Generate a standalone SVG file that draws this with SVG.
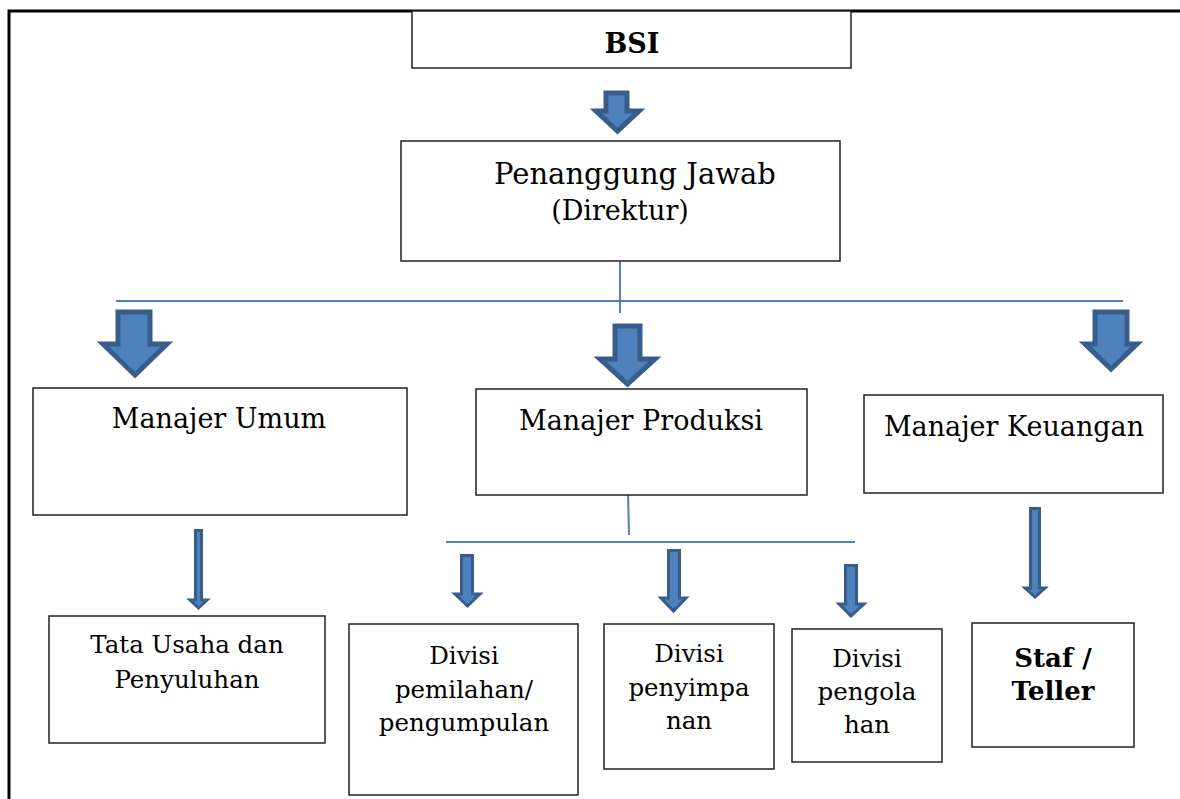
<svg xmlns="http://www.w3.org/2000/svg" width="1180" height="799" viewBox="0 0 1180 799">
<style>
.box{fill:#fff;stroke:#222;stroke-width:1.5}
.t{font-family:"DejaVu Serif","Liberation Serif",serif;fill:#000;text-anchor:middle}
.l{font-size:27px}
.s{font-size:24.5px}
.big{fill:#4F81BD;stroke:#385D8A;stroke-width:5;stroke-linejoin:miter}
.sm{fill:#4F81BD;stroke:#385D8A;stroke-width:3;stroke-linejoin:miter}
.con{stroke:#4F81BD;stroke-width:2;fill:none}
</style>
<rect width="1180" height="799" fill="#fff"/>
<g id="frame"><path d="M9,799 V11 H1180" fill="none" stroke="#000" stroke-width="3"/></g>
<g id="connectors">
<line class="con" x1="620" y1="261" x2="620" y2="313"/>
<line class="con" x1="116" y1="301" x2="1123" y2="301"/>
<line class="con" x1="628" y1="492" x2="629" y2="535"/>
<line class="con" x1="446" y1="542" x2="855" y2="542"/>
<path class="big" d="M606,93 H627 V111 H639 L617.5,131 L596,111 H606 Z"/>
<path class="big" d="M118,312 H150 V344 H167 L135,375 L103,344 H118 Z"/>
<path class="big" d="M615,326 H640 V359 H655 L627.5,384 L600,359 H615 Z"/>
<path class="big" d="M1095,312 H1127 V344 H1137 L1111,369 L1085,344 H1095 Z"/>
<path class="sm" d="M195.5,530.5 H201.5 V600 H207 L198.5,608 L190,600 H195.5 Z"/>
<path class="sm" d="M461.5,555.5 H472.5 V594 H480 L467.5,606 L455,594 H461.5 Z"/>
<path class="sm" d="M668.5,550.5 H679.5 V598 H686 L673.5,611 L661,598 H668.5 Z"/>
<path class="sm" d="M845.5,565.5 H856.5 V604 H864 L851,616 L839,604 H845.5 Z"/>
<path class="sm" d="M1030.5,508.5 H1039.5 V588 H1045 L1035,597 L1025,588 H1030.5 Z"/>
</g>
<g id="bsi"><rect class="box" x="412" y="11" width="439" height="57"/><text class="t" x="632" y="53" font-size="27" font-weight="bold">BSI</text></g>
<g id="direktur"><rect class="box" x="401" y="141" width="439" height="120"/><text class="t" x="635" y="184" font-size="29">Penanggung Jawab</text><text class="t l" x="620" y="220">(Direktur)</text></g>
<g id="umum"><rect class="box" x="33" y="388" width="374" height="127"/><text class="t l" x="219" y="428">Manajer Umum</text></g>
<g id="produksi"><rect class="box" x="476" y="389" width="331" height="106"/><text class="t l" x="641" y="430">Manajer Produksi</text></g>
<g id="keuangan"><rect class="box" x="864" y="395" width="299" height="98"/><text class="t l" x="1014" y="436">Manajer Keuangan</text></g>
<g id="tatausaha"><rect class="box" x="49" y="616" width="276" height="127"/><text class="t s" x="187" y="653">Tata Usaha dan</text><text class="t s" x="187" y="688">Penyuluhan</text></g>
<g id="pemilahan"><rect class="box" x="349" y="624" width="229" height="171"/><text class="t s" x="464" y="664">Divisi</text><text class="t s" x="464" y="698">pemilahan/</text><text class="t s" x="464" y="731">pengumpulan</text></g>
<g id="penyimpanan"><rect class="box" x="604" y="624" width="170" height="145"/><text class="t s" x="689" y="662">Divisi</text><text class="t s" x="689" y="696">penyimpa</text><text class="t s" x="689" y="729">nan</text></g>
<g id="pengolahan"><rect class="box" x="792" y="629" width="150" height="133"/><text class="t s" x="867" y="667">Divisi</text><text class="t s" x="867" y="700">pengola</text><text class="t s" x="867" y="733">han</text></g>
<g id="staf"><rect class="box" x="972" y="623" width="162" height="124"/><text class="t" x="1053" y="667" font-size="26" font-weight="bold">Staf /</text><text class="t" x="1053" y="700" font-size="26" font-weight="bold">Teller</text></g>
</svg>
